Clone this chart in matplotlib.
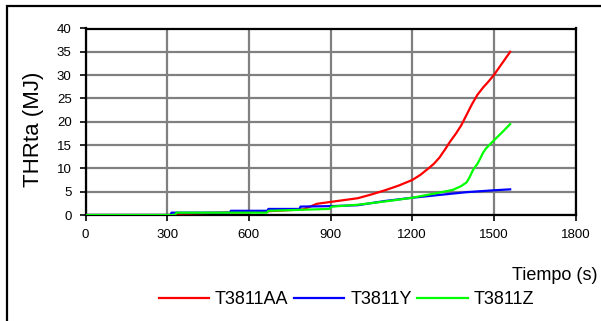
import matplotlib
matplotlib.use("Agg")
import matplotlib.pyplot as plt
from matplotlib.patches import Rectangle

plt.rcParams['font.family'] = ['Liberation Sans', 'DejaVu Sans']

# time (s) / THR (MJ)
t_aa = [0, 325, 330, 600, 800, 850, 900, 950, 1000, 1050, 1100, 1150, 1200, 1230, 1260,
        1280, 1300, 1320, 1340, 1360, 1380, 1400, 1420, 1440, 1460, 1480, 1500, 1530, 1560]
thr_aa = [0, 0, 0.3, 0.6, 1.2, 2.4, 2.8, 3.2, 3.6, 4.4, 5.3, 6.3, 7.5, 8.6, 10.0,
          11.0, 12.3, 14.0, 15.8, 17.4, 19.2, 21.5, 23.8, 25.8, 27.3, 28.6, 30.0, 32.5, 35.0]

t_y = [0, 312, 316, 530, 534, 668, 672, 786, 790, 900, 1000, 1100, 1200, 1300, 1400,
       1500, 1560]
thr_y = [0, 0, 0.5, 0.5, 0.9, 0.9, 1.3, 1.3, 1.8, 1.9, 2.1, 3.0, 3.7, 4.3, 4.9,
         5.3, 5.5]

t_z = [0, 328, 334, 666, 672, 895, 905, 1000, 1100, 1200, 1300, 1350, 1380, 1400, 1410,
       1424, 1440, 1449, 1460, 1470, 1500, 1530, 1560]
thr_z = [0, 0, 0.5, 0.5, 0.9, 1.3, 1.8, 2.2, 2.9, 3.7, 4.8, 5.4, 6.2, 7.0, 8.0,
         9.7, 11.0, 12.0, 13.3, 14.2, 16.0, 17.7, 19.5]

x_ticks = [0, 300, 600, 900, 1200, 1500, 1800]
y_ticks = [0, 5, 10, 15, 20, 25, 30, 35, 40]

fig = plt.figure(figsize=(6.01, 3.21), dpi=100)
ax = fig.add_axes([85.5 / 601, 1 - 215 / 321, 490 / 601, 186.5 / 321])

ax.plot(t_aa, thr_aa, color='#ff0000', lw=1.6, label='T3811AA', zorder=3)
ax.plot(t_y, thr_y, color='#0000ff', lw=1.6, label='T3811Y', zorder=4)
ax.plot(t_z, thr_z, color='#00ff00', lw=1.6, label='T3811Z', zorder=5)

ax.set_xlim(0, 1800)
ax.set_ylim(0, 40)
ax.set_xticks(x_ticks)
ax.set_yticks(y_ticks)
ax.grid(True, color='#808080', lw=1.6)
ax.set_axisbelow(True)
for s in ax.spines.values():
    s.set_linewidth(1.6)
    s.set_color('black')
ax.tick_params(direction='out', length=4, width=1.2, labelsize=9.5, pad=6)

fig.text(34 / 601, 1 - 129 / 321, 'THRta (MJ)', rotation=90, fontsize=16,
         ha='center', va='center')
fig.text(598 / 601, 1 - 276 / 321, 'Tiempo (s)', fontsize=13, ha='right', va='center')

fig.legend(loc='center', bbox_to_anchor=(346.5 / 601, 1 - 300 / 321), ncol=3,
           frameon=False, fontsize=13, handlelength=2.8, handletextpad=0.33,
           columnspacing=0.3)

fig.add_artist(Rectangle((7 / 601, -0.2), 1.2, 1.2 - 6 / 321, transform=fig.transFigure,
                         fill=False, edgecolor='black', lw=1.6, clip_on=False))

fig.savefig('out.png', dpi=100)
